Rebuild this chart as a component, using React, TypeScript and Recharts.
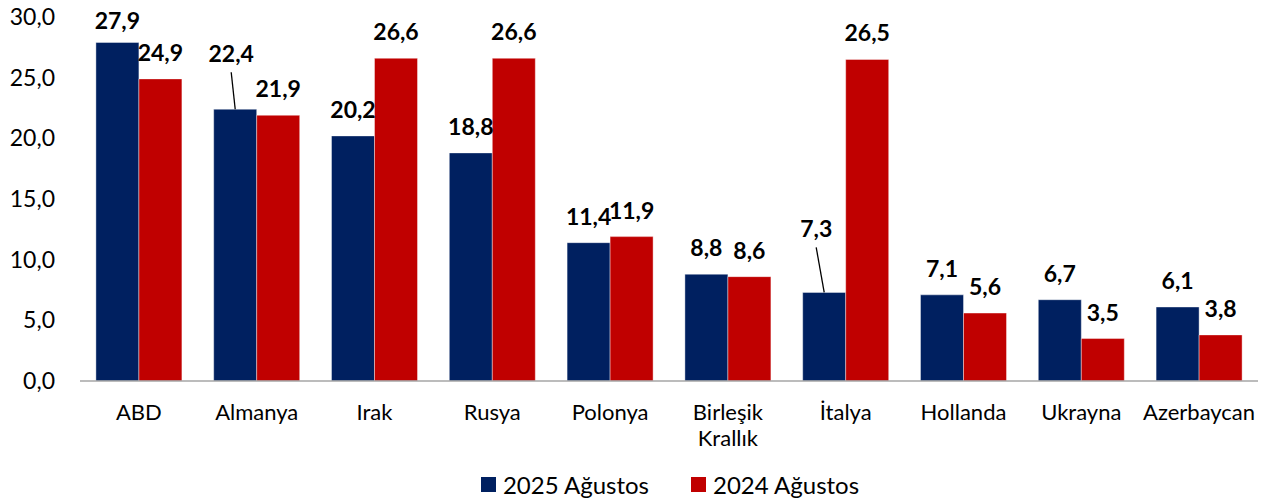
import { Bar, BarChart, LabelList, Legend, XAxis, YAxis } from "recharts";
import { Text } from "recharts";

const countries = [
  "ABD",
  "Almanya",
  "Irak",
  "Rusya",
  "Polonya",
  "Birleşik Krallık",
  "İtalya",
  "Hollanda",
  "Ukrayna",
  "Azerbaycan",
];
const aug2025 = [27.9, 22.4, 20.2, 18.8, 11.4, 8.8, 7.3, 7.1, 6.7, 6.1];
const aug2024 = [24.9, 21.9, 26.6, 26.6, 11.9, 8.6, 26.5, 5.6, 3.5, 3.8];
const yTicks = [0, 5, 10, 15, 20, 25, 30];

const NAVY = "#002060";
const RED = "#C00000";
const FONT = "Lato, 'Open Sans', sans-serif";

// labels that Excel moved by hand (with leader lines)
const NUDGE_2025: Record<number, { dx: number; dy: number; leader: boolean }> = {
  0: { dx: 0, dy: 5, leader: false },
  1: { dx: -4, dy: -29, leader: true },
  6: { dx: -8, dy: -37, leader: true },
};

const fmt = (v: number) => v.toFixed(1).replace(".", ",");

const data = countries.map((name, i) => ({
  name,
  y2025: aug2025[i],
  y2024: aug2024[i],
}));

function makeLabel(nudge: Record<number, { dx: number; dy: number; leader: boolean }>) {
  return (props: any) => {
    const { x, y, width, value, index } = props;
    const n = nudge[index] ?? { dx: 0, dy: 0, leader: false };
    const bx = Number(x) + Number(width) / 2;
    const cx = bx + n.dx;
    const cy = Number(y) - 27 + n.dy;
    return (
      <g>
        {n.leader && (
          <line x1={cx} y1={cy + 19} x2={bx} y2={Number(y)} stroke="#000" strokeWidth={1.3} />
        )}
        <text
          x={cx}
          y={cy}
          textAnchor="middle"
          dominantBaseline="central"
          fontFamily={FONT}
          fontWeight={700}
          fontSize={23}
          fill="#000"
        >
          {fmt(Number(value))}
        </text>
      </g>
    );
  };
}

function CategoryTick(props: any) {
  const { x, y, payload } = props;
  return (
    <Text
      x={x}
      y={y}
      width={100}
      textAnchor="middle"
      verticalAnchor="start"
      fontFamily={FONT}
      fontSize={22}
      fill="#000"
      lineHeight={26}
    >
      {payload.value}
    </Text>
  );
}

function LegendContent() {
  const items = [
    { label: "2025 Ağustos", color: NAVY },
    { label: "2024 Ağustos", color: RED },
  ];
  return (
    <div
      style={{
        display: "flex",
        justifyContent: "center",
        gap: 42,
        fontFamily: FONT,
        fontSize: 24,
        color: "#000",
        paddingLeft: 82,
        paddingTop: 6,
      }}
    >
      {items.map((it) => (
        <div key={it.label} style={{ display: "flex", alignItems: "center", gap: 7 }}>
          <span style={{ width: 15, height: 15, background: it.color, display: "inline-block" }} />
          <span>{it.label}</span>
        </div>
      ))}
    </div>
  );
}

export default function App() {
  return (
    <div style={{ position: "absolute", left: 0, top: 0, background: "#fff" }}>
      <BarChart
        width={1274}
        height={504}
        data={data}
        margin={{ top: 17, right: 16, bottom: 0, left: 0 }}
        barCategoryGap="13.5%"
        barGap={0}
      >
        <XAxis
          dataKey="name"
          interval={0}
          tickLine={false}
          tickSize={0}
          tickMargin={23}
          height={83}
          axisLine={{ stroke: "#A6A6A6", strokeWidth: 1.5 }}
          tick={<CategoryTick />}
        />
        <YAxis
          domain={[0, 30]}
          ticks={yTicks}
          width={80}
          axisLine={false}
          tickLine={false}
          tickSize={0}
          tickMargin={25}
          tickFormatter={fmt}
          tick={{ fontFamily: FONT, fontSize: 23, fill: "#000" }}
        />
        <Legend verticalAlign="bottom" height={40} content={<LegendContent />} />
        <Bar dataKey="y2025" name="2025 Ağustos" fill={NAVY} stroke="#ffffff" strokeOpacity={0.4} isAnimationActive={false}>
          <LabelList dataKey="y2025" content={makeLabel(NUDGE_2025)} />
        </Bar>
        <Bar dataKey="y2024" name="2024 Ağustos" fill={RED} stroke="#ffffff" strokeOpacity={0.4} isAnimationActive={false}>
          <LabelList dataKey="y2024" content={makeLabel({})} />
        </Bar>
      </BarChart>
    </div>
  );
}
